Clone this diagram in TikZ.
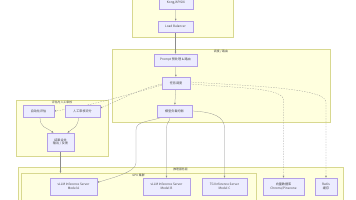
\documentclass[tikz,border=0pt]{standalone}
\usepackage{fontspec}
\newfontfamily\cjk{Noto Sans CJK SC}
\usetikzlibrary{arrows.meta}
\definecolor{grpfill}{HTML}{FFFFDE}
\definecolor{grpline}{HTML}{D8D890}
\definecolor{boxfill}{HTML}{ECECFF}
\definecolor{boxline}{HTML}{B4A0E6}
\definecolor{ink}{HTML}{444444}
\definecolor{wire}{HTML}{8C8C8C}
\pgfdeclarelayer{grp}\pgfdeclarelayer{wires}
\pgfsetlayers{grp,wires,main}

\begin{document}
\begin{tikzpicture}[x=1pt, y=-1pt, >={Latex[length=2pt,width=1.7pt]},
    font=\cjk\fontsize{3.1}{3.8}\selectfont, text=ink,
    box/.style={draw=boxline, fill=boxfill, line width=0.3pt, inner sep=0pt, align=center},
    grp/.style={draw=grpline, fill=grpfill, line width=0.3pt},
    grplabel/.style={font=\cjk\fontsize{2.9}{3.5}\selectfont},
    flow/.style={->, draw=wire, line width=0.25pt},
    dflow/.style={flow, dash pattern=on 1.4pt off 1.2pt}]
  \useasboundingbox (0,0) rectangle (356,200);
  % groups
  \begin{pgfonlayer}{grp}
    \fill[white] (0,0) rectangle (356,200);
    \draw[grp] (132,-10) rectangle (233,37);
    \draw[grp] (112,49) rectangle (330,122);
    \draw[grp] (16,100) rectangle (108,156);
    \draw[grp] (18,167) rectangle (343,210);
    \draw[grp] (21,173) rectangle (256,210);
  \end{pgfonlayer}
  \node[grplabel] (schedlbl) at (221,51.6) {调度 / 路由};
  \node[grplabel] (reviewlbl) at (62,102.2) {评估与人工审核};
  \node[grplabel] (inferlbl) at (180.5,169.3) {推理服务层};
  \node[grplabel] (gpulbl) at (138.5,175.3) {GPU 集群};
  % nodes
  \node[box, minimum width=34pt, minimum height=12pt] (kong) at (176,3) {Kong/APISIX};
  \node[box, minimum width=35pt, minimum height=11pt] (lb) at (175.5,26.5) {Load Balancer};
  \node[box, minimum width=43pt, minimum height=12pt] (prompt) at (175.5,60) {Prompt 预处理 \& 路由};
  \node[box, minimum width=28pt, minimum height=12pt] (route) at (176,83) {任务调度};
  \node[box, minimum width=35pt, minimum height=12pt] (lbal) at (174.5,111) {模型负载均衡};
  \node[box, minimum width=31pt, minimum height=12pt] (autoeval) at (38.5,111) {自动化评估};
  \node[box, minimum width=35pt, minimum height=12pt] (human) at (82.5,111) {人工审核评分};
  \node[box, minimum width=27pt, minimum height=18pt] (merge) at (60.5,142) {结果合并\\输出 / 反馈};
  \node[box, minimum width=47pt, minimum height=17pt] (vllmA) at (73.5,186.5) {vLLM Inference Server\\Model A};
  \node[box, minimum width=47pt, minimum height=17pt] (vllmB) at (166.5,186.5) {vLLM Inference Server\\Model B};
  \node[box, minimum width=45pt, minimum height=17pt] (tgi) at (224.5,186.5) {TGI Inference Server\\Model C};
  \node[box, minimum width=41pt, minimum height=17pt] (vdb) at (283.5,186.5) {向量数据库\\Chroma/Pinecone};
  \node[box, minimum width=22pt, minimum height=17pt] (redis) at (326,186.5) {Redis\\缓存};
  \coordinate (gputop) at (60.5,173);
  % connectors
  \begin{pgfonlayer}{wires}
    \draw[flow] (kong) -- (lb);
    \draw[flow] (lb) -- (prompt);
    \draw[flow] (prompt) -- (route);
    \draw[flow] (route) -- (lbal);
    \draw[dflow] ([yshift=-1pt]route.west) .. controls (135,90) and (112,104) .. ([yshift=3pt]human.east);
    \draw[dflow] ([yshift=-2pt]route.west) .. controls (125,96) and (80,108) .. (autoeval.east);
    \draw[flow] ([xshift=1.5pt]autoeval.south) .. controls (40,128) and (46,127) .. ([xshift=-7pt]merge.north);
    \draw[flow] ([xshift=-4pt]human.south) .. controls (78,128) and (74,127) .. ([xshift=7pt]merge.north);
    \draw[flow] (merge) -- (gputop);
    \draw[flow] ([xshift=-12pt]lbal.south) .. controls (148,122) and (136,121) .. (136,130) -- (136,163) .. controls (136,172) and (112,178) .. ([yshift=4pt]vllmA.east);
    \draw[flow] ([xshift=-4.5pt]lbal.south) .. controls (170,122) and (166.5,122) .. (166.5,128) -- (vllmB.north);
    \draw[flow] (lbal.east) .. controls (214,112) and (224.5,117) .. (224.5,128) -- (tgi.north);
    \draw[dflow] ([yshift=-1pt]route.east) .. controls (240,88) and (283.5,88) .. (283.5,100) -- (vdb.north);
    \draw[dflow] ([yshift=1pt]route.east) .. controls (250,86) and (326,88) .. (326,102) -- (redis.north);
  \end{pgfonlayer}
\end{tikzpicture}
\end{document}
